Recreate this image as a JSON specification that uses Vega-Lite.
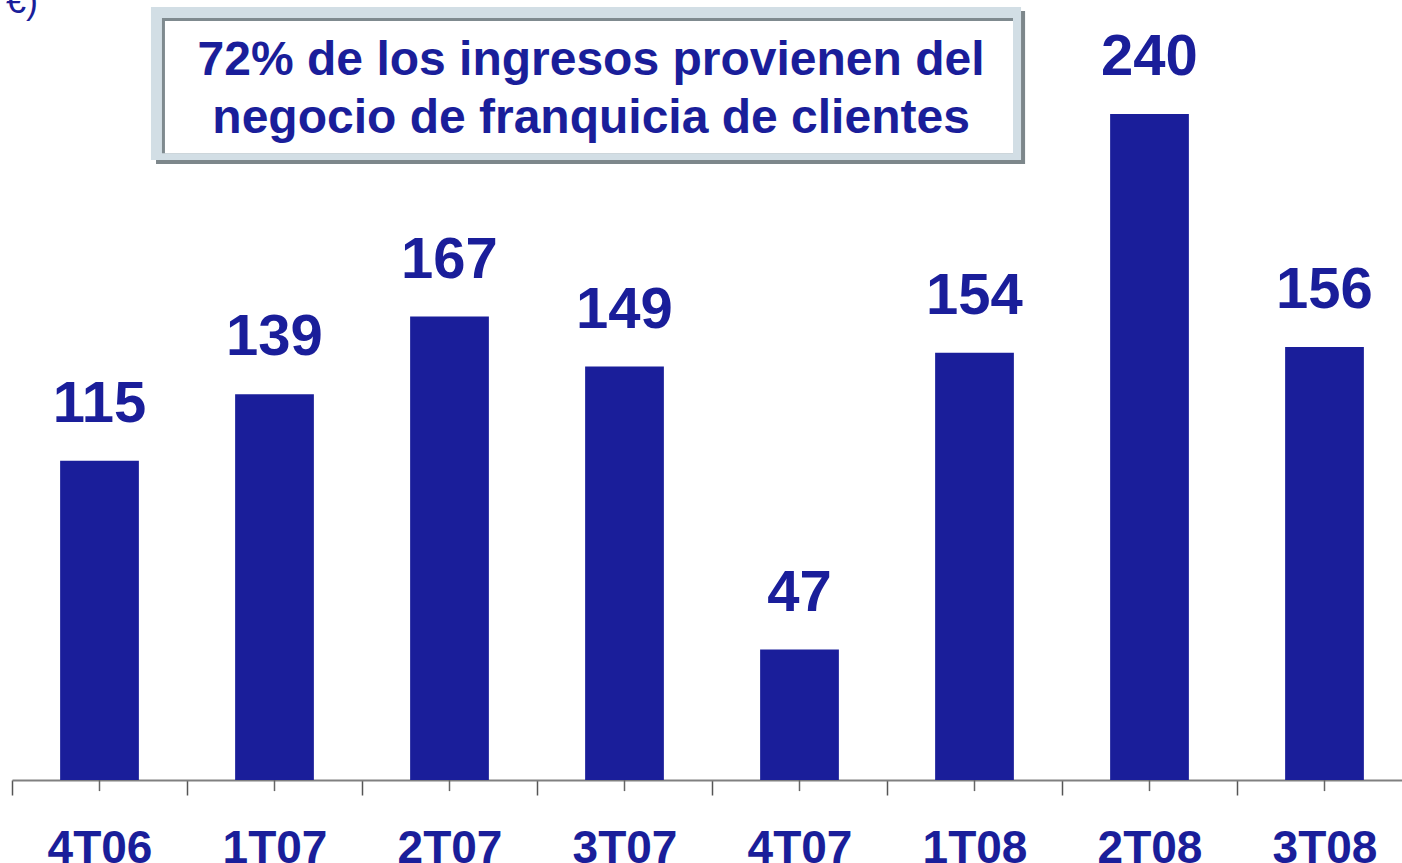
{
  "$schema": "https://vega.github.io/schema/vega-lite/v6.json",
  "width": 1400,
  "height": 780,
  "autosize": {"type": "none"},
  "padding": {"left": 12, "top": 0, "right": 0, "bottom": 83},
  "background": "white",
  "config": {"view": {"stroke": null}, "font": "Liberation Sans"},
  "resolve": {"scale": {"x": "independent"}},
  "layer": [
    {
      "data": {"values": [{}]},
      "layer": [
        {
          "mark": {"type": "rect", "fill": "#7d878b"},
          "encoding": {
            "x": {"datum": 0.823, "type": "quantitative", "scale": {"domain": [0, 8], "nice": false, "zero": false}, "axis": null},
            "x2": {"datum": 5.789},
            "y": {"datum": 277.1, "type": "quantitative"},
            "y2": {"datum": 222.0}
          }
        },
        {
          "mark": {"type": "rect", "fill": "#d2dee5"},
          "encoding": {
            "x": {"datum": 0.794, "type": "quantitative"},
            "x2": {"datum": 5.766},
            "y": {"datum": 278.6, "type": "quantitative"},
            "y2": {"datum": 223.4}
          }
        },
        {
          "mark": {"type": "rect", "fill": "#7f8a8f"},
          "encoding": {
            "x": {"datum": 0.857, "type": "quantitative"},
            "x2": {"datum": 5.72},
            "y": {"datum": 274.6, "type": "quantitative"},
            "y2": {"datum": 225.9}
          }
        },
        {
          "mark": {"type": "rect", "fill": "#ffffff"},
          "encoding": {
            "x": {"datum": 0.874, "type": "quantitative"},
            "x2": {"datum": 5.72},
            "y": {"datum": 273.5, "type": "quantitative"},
            "y2": {"datum": 225.9}
          }
        },
        {
          "mark": {"type": "text", "font": "Liberation Sans", "fontWeight": "bold", "fontSize": 48, "color": "#1a1e9a", "align": "center", "baseline": "alphabetic", "lineHeight": 58},
          "encoding": {
            "x": {"datum": 3.309, "type": "quantitative"},
            "y": {"datum": 254.1, "type": "quantitative"},
            "text": {"value": ["72% de los ingresos provienen del", "negocio de franquicia de clientes"]}
          }
        },
        {
          "mark": {"type": "text", "font": "Liberation Sans", "fontSize": 36, "color": "#1a1e9a", "align": "right", "baseline": "alphabetic"},
          "encoding": {
            "x": {"datum": 0.149, "type": "quantitative"},
            "y": {"datum": 276.4, "type": "quantitative"},
            "text": {"value": "(millones de €)"}
          }
        }
      ]
    },
    {
      "data": {
        "values": [
          {"periodo": "4T06", "valor": 115},
          {"periodo": "1T07", "valor": 139},
          {"periodo": "2T07", "valor": 167},
          {"periodo": "3T07", "valor": 149},
          {"periodo": "4T07", "valor": 47},
          {"periodo": "1T08", "valor": 154},
          {"periodo": "2T08", "valor": 240},
          {"periodo": "3T08", "valor": 156}
        ]
      },
      "encoding": {
        "x": {
          "field": "periodo",
          "type": "nominal",
          "sort": null,
          "scale": {"paddingInner": 0, "paddingOuter": 0},
          "axis": {
            "orient": "bottom",
            "title": null,
            "tickBand": "extent",
            "domainColor": "#808080",
            "domainWidth": 2,
            "tickColor": "#555555",
            "tickWidth": 1.5,
            "tickSize": 15,
            "labelPadding": 31,
            "labelFont": "Liberation Sans",
            "labelFontWeight": "bold",
            "labelFontSize": 46,
            "labelColor": "#1a1e9a",
            "labelAngle": 0,
            "labelBaseline": "top"
          }
        }
      },
      "layer": [
        {
          "mark": {"type": "bar", "color": "#1a1e9a", "width": {"band": 0.45}},
          "encoding": {
            "y": {"field": "valor", "type": "quantitative", "scale": {"domain": [0, 281.08], "nice": false}, "axis": null}
          }
        },
        {
          "mark": {"type": "text", "font": "Liberation Sans", "fontWeight": "bold", "fontSize": 58, "color": "#1a1e9a", "baseline": "alphabetic", "dy": -39},
          "encoding": {
            "y": {"field": "valor", "type": "quantitative"},
            "text": {"field": "valor", "type": "quantitative"}
          }
        },
        {
          "mark": {"type": "rule", "color": "#666666", "strokeWidth": 1.5},
          "encoding": {
            "y": {"datum": 0, "type": "quantitative"},
            "y2": {"datum": -4}
          }
        }
      ]
    }
  ]
}
